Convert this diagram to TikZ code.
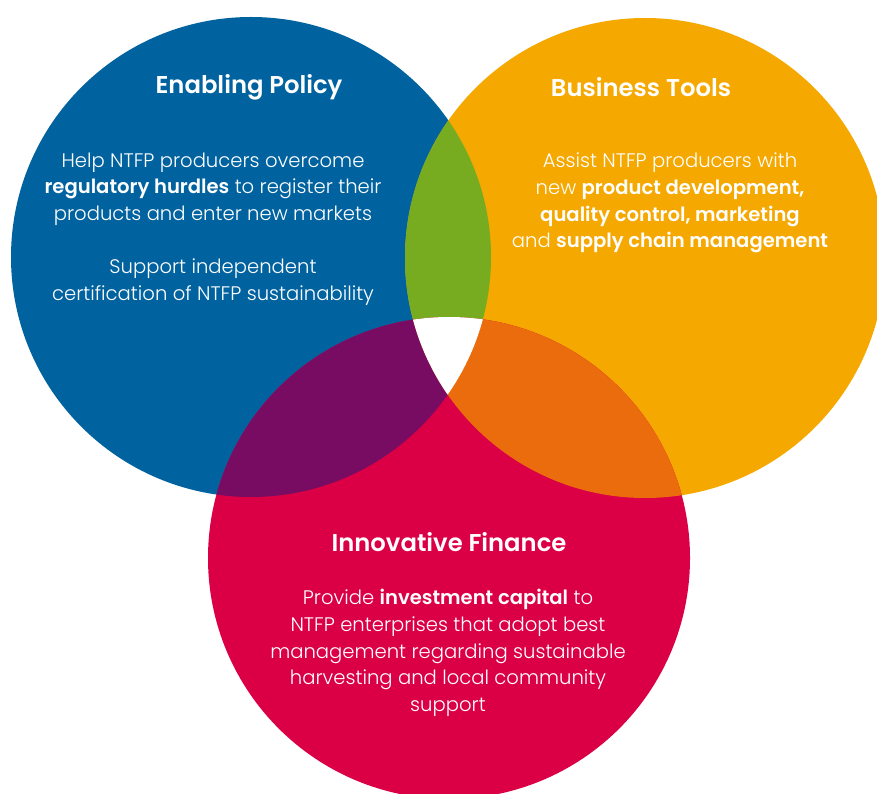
\documentclass[tikz,border=0pt]{standalone}
\usepackage{fontspec}
\setmainfont{Poppins}[UprightFont={* Light}, BoldFont={* SemiBold}]
\usetikzlibrary{positioning}

\definecolor{policyblue}{RGB}{0,99,160}
\definecolor{toolsorange}{RGB}{245,168,0}
\definecolor{financered}{RGB}{219,0,69}
\definecolor{lensgreen}{RGB}{120,172,32}
\definecolor{lenspurple}{RGB}{119,12,98}
\definecolor{lensorange}{RGB}{234,108,13}

\begin{document}
\begin{tikzpicture}[x=1pt,y=-1pt,
  ttl/.style={text=white,inner sep=0pt,font=\fontsize{24.3}{28}\selectfont\bfseries},
  txt/.style={text=white,inner sep=0pt,align=center,font=\fontsize{19.6}{26.7}\selectfont}]
  \useasboundingbox (0,0) rectangle (877,794);
  \coordinate (bc) at (251,257);
  \coordinate (oc) at (645,258);
  \coordinate (rc) at (449,558);
  % the three circles
  \fill[policyblue] (bc) circle (240pt);
  \fill[toolsorange] (oc) circle (240pt);
  \fill[financered] (rc) circle (241pt);
  % overlaps
  \begin{scope}
    \clip (bc) circle (240pt);
    \fill[lensgreen] (oc) circle (240pt);
    \fill[lenspurple] (rc) circle (241pt);
  \end{scope}
  \begin{scope}
    \clip (oc) circle (240pt);
    \fill[lensorange] (rc) circle (241pt);
    \clip (bc) circle (240pt);
    \fill[white] (rc) circle (241pt);
  \end{scope}
  % texts
  \node[ttl] (ept) at (249,87) {Enabling Policy};
  \node[txt] (epa) at (213,189) {Help NTFP producers overcome\\
    \textbf{regulatory hurdles} to register their\\
    products and enter new markets};
  \node[txt] (epb) at (213,282) {Support independent\\
    certification of NTFP sustainability};
  \node[ttl] (btt) at (641,87) {Business Tools};
  \node[txt] (bta) at (670,203) {Assist NTFP producers with\\
    new \textbf{product development,}\\
    \textbf{quality control, marketing}\\
    and \textbf{supply chain management}};
  \node[ttl] (ift) at (449,542) {Innovative Finance};
  \node[txt] (ifa) at (448,653) {Provide \textbf{investment capital} to\\
    NTFP enterprises that adopt best\\
    management regarding sustainable\\
    harvesting and local community\\
    support};
\end{tikzpicture}
\end{document}
